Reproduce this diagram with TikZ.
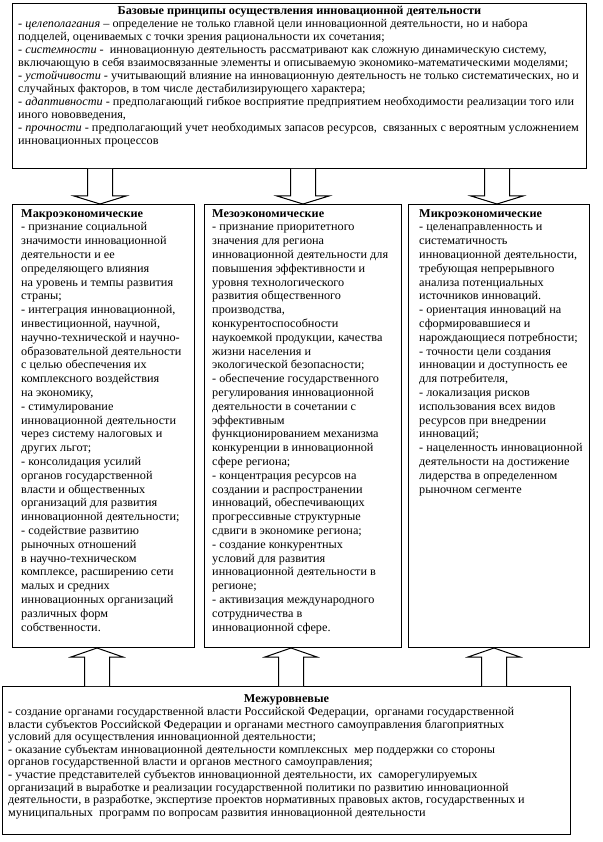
\documentclass[tikz,border=0pt]{standalone}
\usepackage{fontspec}
\setmainfont{Liberation Serif}[FakeStretch=1.02]
\usetikzlibrary{calc}
\begin{document}
\begin{tikzpicture}[x=1pt,y=-1pt,
  box/.style={draw, line width=1pt, inner sep=0pt},
  txt/.style={anchor=north west, inner sep=0pt, align=left},
  coltxt/.style={txt, font=\fontsize{12}{13.8}\selectfont},
  widetxt/.style={txt, font=\fontsize{12}{13}\selectfont},
  ttl/.style={anchor=north, inner sep=0pt, font=\fontsize{12}{13}\selectfont\bfseries},
  blockarrow/.style={draw, line width=1pt, fill=white, line join=miter},
]
\path[use as bounding box] (0,0) rectangle (602,842);
% boxes
\node[box, anchor=north west, minimum width=574pt, minimum height=165pt] (top) at (12,3) {};
\node[box, anchor=north west, minimum width=182pt, minimum height=443pt] (macro) at (12,204) {};
\node[box, anchor=north west, minimum width=197pt, minimum height=443pt] (meso) at (204,204) {};
\node[box, anchor=north west, minimum width=181pt, minimum height=443pt] (micro) at (408,204) {};
\node[box, anchor=north west, minimum width=568pt, minimum height=148pt] (bottom) at (2,686) {};
% arrow axes
\coordinate (d1) at (100,0);
\coordinate (d2) at (303,0);
\coordinate (d3) at (497,0);
\coordinate (u1) at (97,0);
\coordinate (u2) at (291,0);
\coordinate (u3) at (494,0);
% down arrows
\foreach \c/\t in {d1/macro, d2/meso, d3/micro}{
  \draw[blockarrow]
    ($(top.south -| \c)+(-12.5,0)$) -- ($(\t.north -| \c)+(-12.5,-8)$) -- ($(\t.north -| \c)+(-26,-8)$)
    -- (\t.north -| \c) -- ($(\t.north -| \c)+(26,-8)$) -- ($(\t.north -| \c)+(12.5,-8)$)
    -- ($(top.south -| \c)+(12.5,0)$);
}
% up arrows
\foreach \c/\t in {u1/macro, u2/meso, u3/micro}{
  \draw[blockarrow]
    ($(bottom.north -| \c)+(-12.5,0)$) -- ($(\t.south -| \c)+(-12.5,9)$) -- ($(\t.south -| \c)+(-26,9)$)
    -- (\t.south -| \c) -- ($(\t.south -| \c)+(26,9)$) -- ($(\t.south -| \c)+(12.5,9)$)
    -- ($(bottom.north -| \c)+(12.5,0)$);
}
% top text
\node[ttl] (toptitle) at ($(top.north)+(0,3)$) {Базовые принципы осуществления инновационной деятельности};
\node[widetxt] (toptext) at ($(top.north west)+(6,16)$) {%
- \textit{целеполагания} – определение не только главной цели инновационной деятельности, но и набора\\
подцелей, оцениваемых с точки зрения рациональности их сочетания;\\
- \textit{системности} -\ \ инновационную деятельность рассматривают как сложную динамическую систему,\\
включающую в себя взаимосвязанные элементы и описываемую экономико-математическими моделями;\\
- \textit{устойчивости} - учитывающий влияние на инновационную деятельность не только систематических, но и\\
случайных факторов, в том числе дестабилизирующего характера;\\
- \textit{адаптивности} - предполагающий гибкое восприятие предприятием необходимости реализации того или\\
иного нововведения,\\
- \textit{прочности} - предполагающий учет необходимых запасов ресурсов,\ \ связанных с вероятным усложнением\\
инновационных процессов};
% macro
\node[coltxt] (macrotext) at ($(macro.north west)+(9,5)$) {%
\textbf{Макроэкономические}\\
- признание социальной\\
значимости инновационной\\
деятельности и ее\\
определяющего влияния\\
на уровень и темпы развития\\
страны;\\
- интеграция инновационной,\\
инвестиционной, научной,\\
научно-технической и научно-\\
образовательной деятельности\\
с целью обеспечения их\\
комплексного воздействия\\
на экономику,\\
- стимулирование\\
инновационной деятельности\\
через систему налоговых и\\
других льгот;\\
- консолидация усилий\\
органов государственной\\
власти и общественных\\
организаций для развития\\
инновационной деятельности;\\
- содействие развитию\\
рыночных отношений\\
в научно-техническом\\
комплексе, расширению сети\\
малых и средних\\
инновационных организаций\\
различных форм\\
собственности.};
% meso
\node[coltxt] (mesotext) at ($(meso.north west)+(8,5)$) {%
\textbf{Мезоэкономические}\\
- признание приоритетного\\
значения для региона\\
инновационной деятельности для\\
повышения эффективности и\\
уровня технологического\\
развития общественного\\
производства,\\
конкурентоспособности\\
наукоемкой продукции, качества\\
жизни населения и\\
экологической безопасности;\\
- обеспечение государственного\\
регулирования инновационной\\
деятельности в сочетании с\\
эффективным\\
функционированием механизма\\
конкуренции в инновационной\\
сфере региона;\\
- концентрация ресурсов на\\
создании и распространении\\
инноваций, обеспечивающих\\
прогрессивные структурные\\
сдвиги в экономике региона;\\
- создание конкурентных\\
условий для развития\\
инновационной деятельности в\\
регионе;\\
- активизация международного\\
сотрудничества в\\
инновационной сфере.};
% micro
\node[coltxt] (microtext) at ($(micro.north west)+(11,5)$) {%
\textbf{Микроэкономические}\\
- целенаправленность и\\
систематичность\\
инновационной деятельности,\\
требующая непрерывного\\
анализа потенциальных\\
источников инноваций.\\
- ориентация инноваций на\\
сформировавшиеся и\\
нарождающиеся потребности;\\
- точности цели создания\\
инновации и доступность ее\\
для потребителя,\\
- локализация рисков\\
использования всех видов\\
ресурсов при внедрении\\
инноваций;\\
- нацеленность инновационной\\
деятельности на достижение\\
лидерства в определенном\\
рыночном сегменте};
% bottom
\node[ttl] (bottomtitle) at ($(bottom.north)+(0,8)$) {Межуровневые};
\node[txt, font=\fontsize{12}{12.6}\selectfont] (bottomtext) at ($(bottom.north west)+(6,21)$) {%
- создание органами государственной власти Российской Федерации,\ \ органами государственной\\
власти субъектов Российской Федерации и органами местного самоуправления благоприятных\\
условий для осуществления инновационной деятельности;\\
- оказание субъектам инновационной деятельности комплексных\ \ мер поддержки со стороны\\
органов государственной власти и органов местного самоуправления;\\
- участие представителей субъектов инновационной деятельности, их\ \ саморегулируемых\\
организаций в выработке и реализации государственной политики по развитию инновационной\\
деятельности, в разработке, экспертизе проектов нормативных правовых актов, государственных и\\
муниципальных\ \ программ по вопросам развития инновационной деятельности};
\end{tikzpicture}
\end{document}
